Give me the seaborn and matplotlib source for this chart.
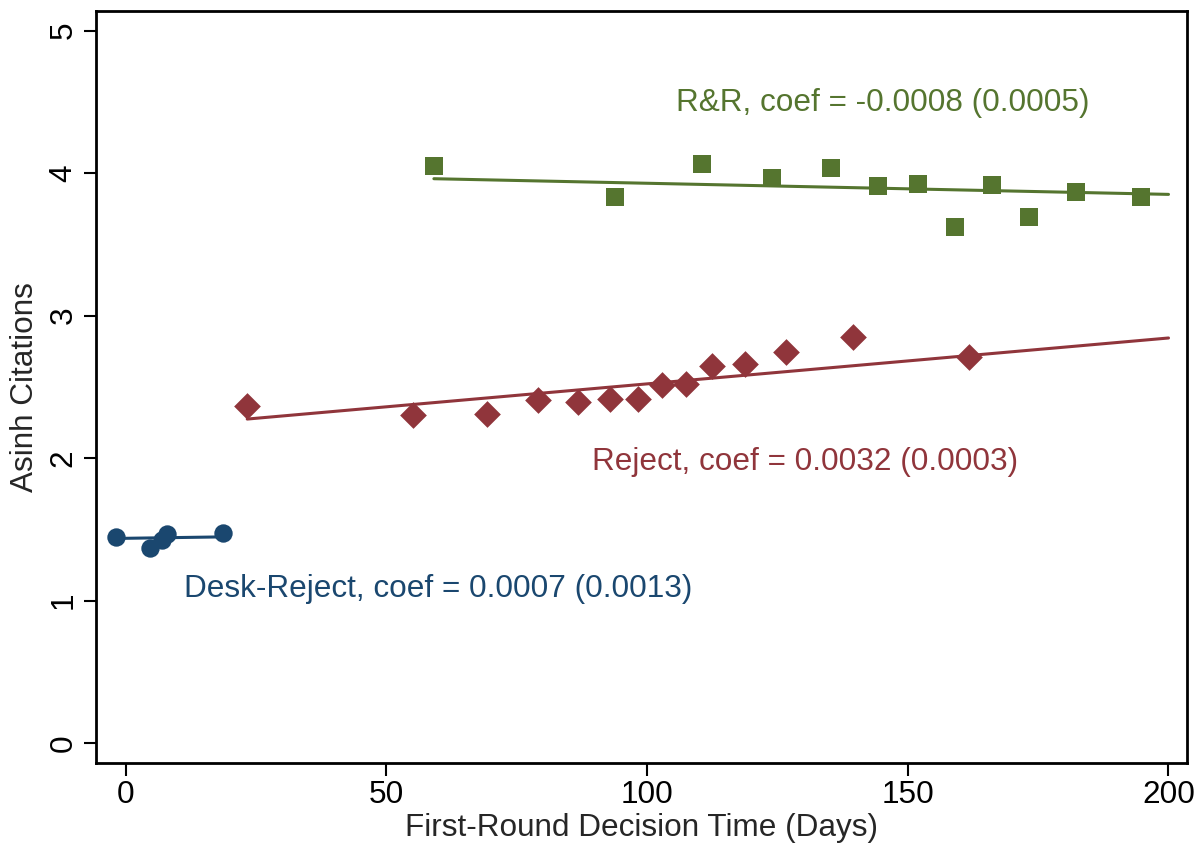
import numpy as np
import pandas as pd
import seaborn as sns
import matplotlib.pyplot as plt

# binned means
desk_x = [-1.9, 4.7, 6.9, 7.9, 18.7]
desk_y = [1.447, 1.370, 1.424, 1.466, 1.471]

rej_x = [23.3, 55.0, 69.2, 79.0, 86.7, 92.9, 98.2, 102.8, 107.4, 112.4, 118.8, 126.6, 139.4, 161.8]
rej_y = [2.363, 2.300, 2.307, 2.410, 2.393, 2.417, 2.417, 2.510, 2.520, 2.644, 2.663, 2.744, 2.847, 2.707]

rr_x = [59.1, 93.8, 110.6, 123.9, 135.2, 144.2, 152.0, 159.1, 166.1, 173.2, 182.2, 194.8]
rr_y = [4.051, 3.834, 4.065, 3.969, 4.037, 3.911, 3.925, 3.623, 3.918, 3.693, 3.869, 3.834]

# fitted lines (end points)
desk_fit_x = [-1.9, 18.7]
desk_fit_y = [1.436, 1.447]
rej_fit_x = [23.3, 200]
rej_fit_y = [2.274, 2.843]
rr_fit_x = [59.1, 200]
rr_fit_y = [3.961, 3.851]

labels = ["Desk-Reject, coef = 0.0007 (0.0013)",
          "Reject, coef = 0.0032 (0.0003)",
          "R&R, coef = -0.0008 (0.0005)"]

navy = "#1a476f"
maroon = "#90353b"
green = "#55752f"

sns.set_style("ticks")
plt.rcParams['font.family'] = ['Liberation Sans', 'DejaVu Sans']

fig = plt.figure(figsize=(11.96, 8.48), dpi=100)
ax = fig.add_axes([0.0803, 0.1006, 0.9124, 0.8864])

sns.lineplot(x=desk_fit_x, y=desk_fit_y, color=navy, lw=2.2, ax=ax)
sns.lineplot(x=rej_fit_x, y=rej_fit_y, color=maroon, lw=2.2, ax=ax)
sns.lineplot(x=rr_fit_x, y=rr_fit_y, color=green, lw=2.2, ax=ax)

sns.scatterplot(x=desk_x, y=desk_y, color=navy, marker='o', s=175, linewidth=0, ax=ax, zorder=3)
sns.scatterplot(x=rej_x, y=rej_y, color=maroon, marker='D', s=185, linewidth=0, ax=ax, zorder=3)
sns.scatterplot(x=rr_x, y=rr_y, color=green, marker='s', s=185, linewidth=0, ax=ax, zorder=3)

fs = 22.7
ax.text(11.2, 1.08, labels[0], color=navy, fontsize=fs, ha='left', va='center')
ax.text(89.4, 1.97, labels[1], color=maroon, fontsize=fs, ha='left', va='center')
ax.text(105.5, 4.49, labels[2], color=green, fontsize=fs, ha='left', va='center')

ax.set_xlim(-5.7, 203.6)
ax.set_ylim(-0.138, 5.138)
ax.set_xticks([0, 50, 100, 150, 200])
ax.set_yticks([0, 1, 2, 3, 4, 5])
ax.tick_params(axis='both', direction='out', length=9, width=1.5, labelsize=fs, colors='black')
plt.setp(ax.get_yticklabels(), rotation=90, va='center')
for sp in ax.spines.values():
    sp.set_visible(True)
    sp.set_linewidth(2)
    sp.set_color('black')

ax.set_xlabel("First-Round Decision Time (Days)", fontsize=fs, labelpad=2)
ax.set_ylabel("Asinh Citations", fontsize=fs, labelpad=6)

fig.savefig("out.png", dpi=100)
